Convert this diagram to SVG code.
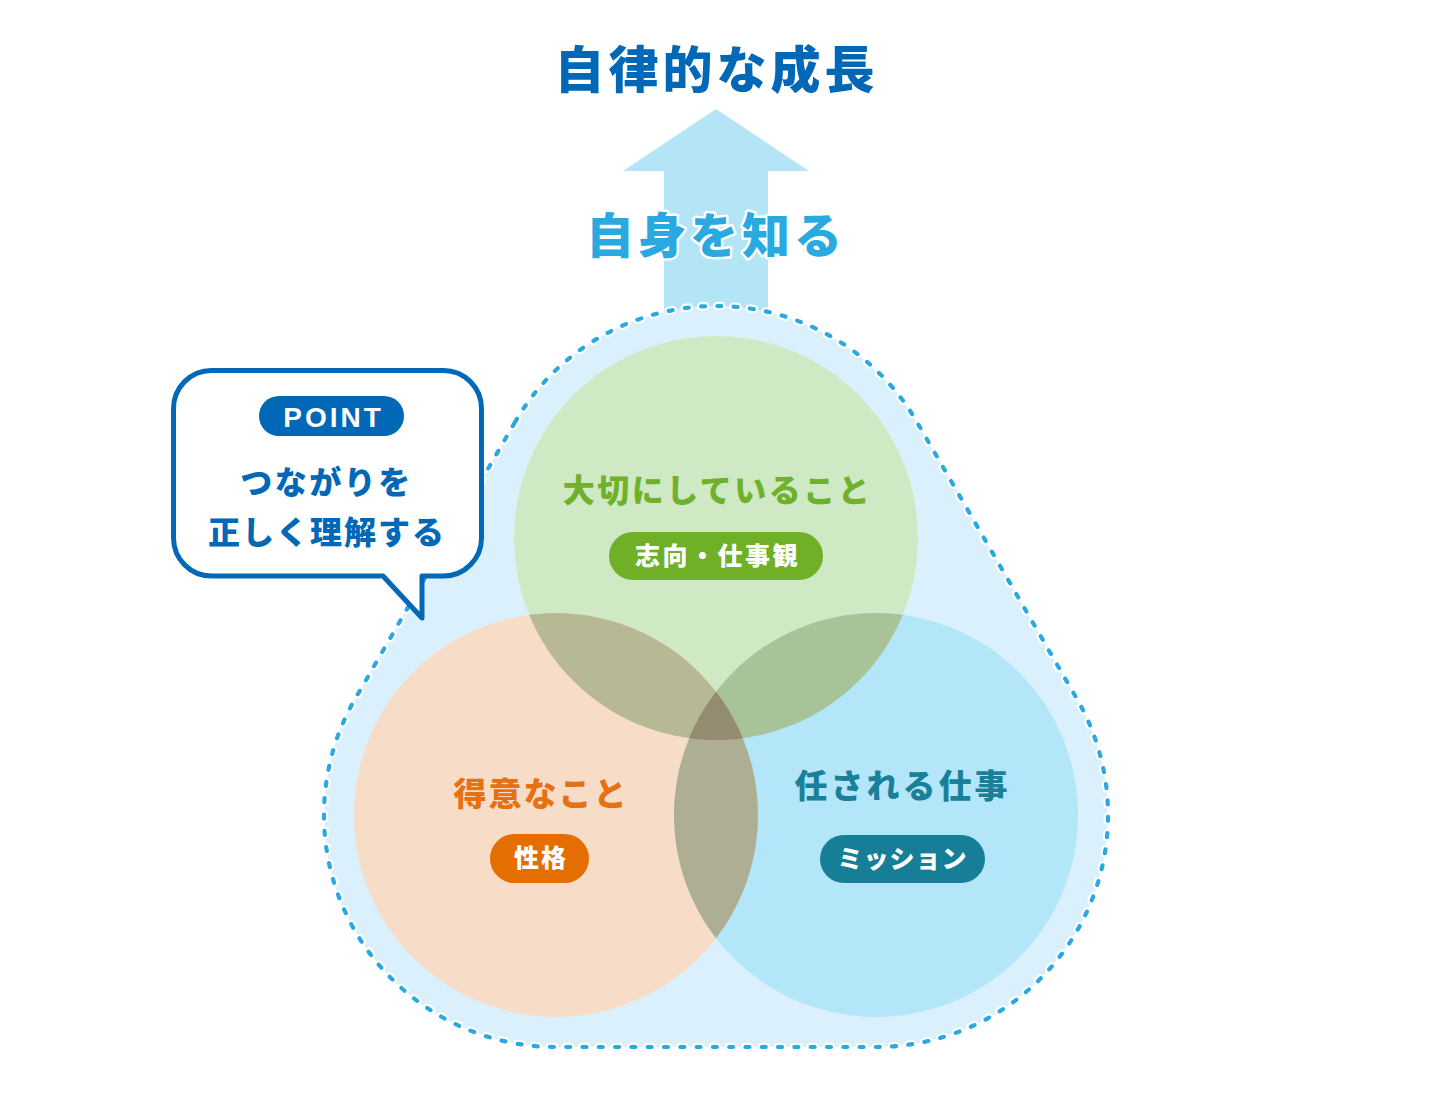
<svg xmlns="http://www.w3.org/2000/svg" width="1440" height="1100" viewBox="0 0 1440 1100">
<defs>
<style>
.jp{font-family:"Noto Sans CJK JP","Noto Sans CJK SC",sans-serif;font-weight:900;text-anchor:middle}
.pilltxt{fill:#ffffff;font-size:25px}
</style>
<clipPath id="clipG"><circle cx="716" cy="538" r="202"/></clipPath>
<clipPath id="clipO"><circle cx="556" cy="815" r="202"/></clipPath>
</defs>
<rect width="1440" height="1100" fill="#ffffff"/>

<g id="arrow">
<polygon points="716,109 809,171 768,171 768,330 664,330 664,171 623,171" fill="#b3e5f7"/>
</g>

<g id="blob">
<path d="M514.9,422.3 A232,232 0 0 1 917.1,422.3 L1077.1,699.3 A232,232 0 0 1 876,1047 L556,1047 A232,232 0 0 1 354.9,699.3 Z" fill="#dbf0fd"/>
<path d="M514.9,422.3 A232,232 0 0 1 917.1,422.3 L1077.1,699.3 A232,232 0 0 1 876,1047 L556,1047 A232,232 0 0 1 354.9,699.3 Z" fill="none" stroke="#ffffff" stroke-width="8.5" stroke-dasharray="4 12.3" stroke-linecap="round"/>
<path d="M514.9,422.3 A232,232 0 0 1 917.1,422.3 L1077.1,699.3 A232,232 0 0 1 876,1047 L556,1047 A232,232 0 0 1 354.9,699.3 Z" fill="none" stroke="#29a9e0" stroke-width="4.2" stroke-dasharray="4 12.3" stroke-linecap="round"/>
</g>

<g id="circles">
<circle id="circle-green" cx="716" cy="538" r="202" fill="#cfe9c4"/>
<circle id="circle-orange" cx="556" cy="815" r="202" fill="#f7dcc8"/>
<circle id="circle-blue" cx="876" cy="815" r="202" fill="#b3e6f8"/>
<circle cx="556" cy="815" r="202" fill="#b7b894" clip-path="url(#clipG)"/>
<circle cx="876" cy="815" r="202" fill="#a7c397" clip-path="url(#clipG)"/>
<circle cx="876" cy="815" r="202" fill="#aeae94" clip-path="url(#clipO)"/>
<g clip-path="url(#clipG)">
<circle cx="876" cy="815" r="202" fill="#938c70" clip-path="url(#clipO)"/>
</g>
</g>

<g id="title">
<text class="jp" x="716.5" y="88" font-size="50" letter-spacing="4" fill="#0068b7">自律的な成長</text>
</g>

<g id="know-self">
<text class="jp" x="716" y="253" font-size="48" letter-spacing="4" fill="#29a9e0" stroke="#ffffff" stroke-width="5" stroke-linejoin="round" paint-order="stroke">自身を知る</text>
</g>

<g id="node-values">
<text class="jp" x="717.5" y="502" font-size="32" letter-spacing="2.5" fill="#6fb12a">大切にしていること</text>
<rect x="609" y="532" width="214" height="48" rx="24" fill="#6fb027"/>
<text class="jp pilltxt" x="717.5" y="565" letter-spacing="2.5">志向・仕事観</text>
</g>

<g id="node-strengths">
<text class="jp" x="541" y="806" font-size="33" letter-spacing="2" fill="#e57110">得意なこと</text>
<rect x="490" y="834" width="99" height="49" rx="24.5" fill="#e46e00"/>
<text class="jp pilltxt" x="541" y="867" letter-spacing="2">性格</text>
</g>

<g id="node-work">
<text class="jp" x="902.5" y="798" font-size="33" letter-spacing="3" fill="#1a8099">任される仕事</text>
<rect x="820" y="835" width="165" height="48" rx="24" fill="#167f97"/>
<text class="jp pilltxt" x="902.5" y="868" letter-spacing="1">ミッション</text>
</g>

<g id="point-bubble">
<path d="M211.5,370.5 H443.5 A38,38 0 0 1 481.5,408.5 V538 A38,38 0 0 1 443.5,576 H422 V618 L383,576 H211.5 A38,38 0 0 1 173.5,538 V408.5 A38,38 0 0 1 211.5,370.5 Z" fill="#ffffff" stroke="#0068b7" stroke-width="5" stroke-linejoin="round"/>
<rect x="259" y="396" width="145" height="40" rx="20" fill="#0068b7"/>
<text x="333.5" y="427" font-family="'Liberation Sans',Arial,sans-serif" font-weight="700" font-size="28" letter-spacing="3" text-anchor="middle" fill="#ffffff">POINT</text>
<text class="jp" x="326.5" y="494" font-size="32" letter-spacing="2.5" fill="#0068b7">つながりを</text>
<text class="jp" x="327" y="544" font-size="32" letter-spacing="2" fill="#0068b7">正しく理解する</text>
</g>
</svg>
